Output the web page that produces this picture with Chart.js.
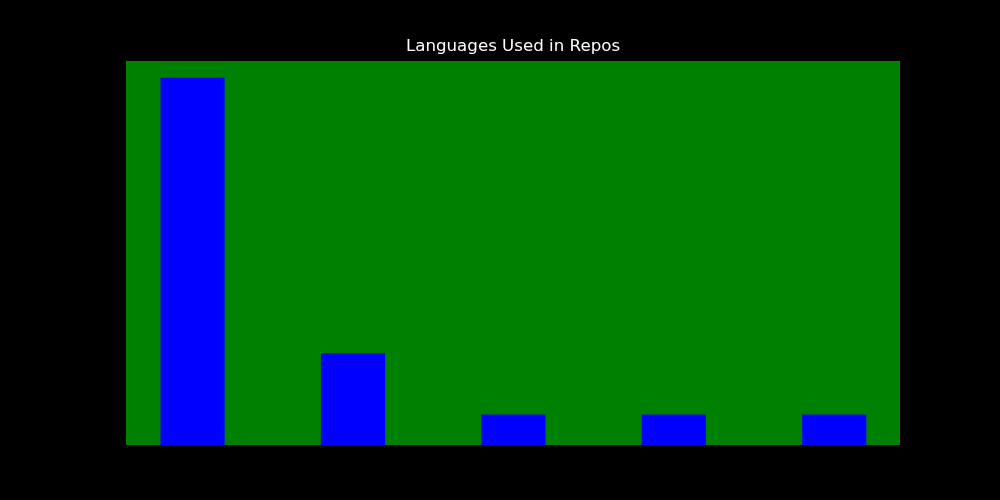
<!DOCTYPE html>
<html>
<head>
<meta charset="utf-8">
<script src="https://cdn.jsdelivr.net/npm/chart.js@4/dist/chart.umd.min.js"></script>
<style>
  html, body { margin: 0; padding: 0; background: #000; }
  #lang-chart { display: block; }
</style>
</head>
<body>
<canvas id="lang-chart" width="1000" height="500"></canvas>
<script>
// Languages and repo counts
const languages = ['Python', 'JavaScript', 'HTML', 'CSS', 'Shell'];
const repoCounts = [12, 3, 1, 1, 1];

// Fill the page black and the plot area green
const backgroundPlugin = {
    id: 'background',
    beforeDraw(chart) {
        const { ctx, chartArea } = chart;
        ctx.save();
        ctx.fillStyle = '#000000';
        ctx.fillRect(0, 0, chart.width, chart.height);
        ctx.fillStyle = '#008000';
        ctx.fillRect(chartArea.left, chartArea.top, chartArea.right - chartArea.left, chartArea.bottom - chartArea.top);
        ctx.restore();
    }
};

const langCtx = document.getElementById('lang-chart').getContext('2d');
new Chart(langCtx, {
    type: 'bar',
    data: {
        labels: languages,
        datasets: [{
            label: 'Repos',
            data: repoCounts.map((v, i) => ({ x: i, y: v })),
            backgroundColor: '#0000ff',
            borderWidth: 0,
            barPercentage: 0.4,
            categoryPercentage: 1.0
        }]
    },
    options: {
        responsive: false,
        animation: false,
        layout: {
            padding: { left: 126, right: 100, top: 36.6, bottom: 55 }
        },
        plugins: {
            legend: { display: false },
            tooltip: { enabled: false },
            title: {
                display: true,
                text: 'Languages Used in Repos',
                color: '#ffffff',
                font: { family: 'DejaVu Sans', size: 16.67, weight: 'normal' },
                padding: { top: 0, bottom: 4.4 }
            }
        },
        scales: {
            x: {
                type: 'linear',
                min: -0.415,
                max: 4.41,
                offset: false,
                ticks: { stepSize: 1, includeBounds: false },
                display: false
            },
            y: {
                min: 0,
                max: 12.55,
                display: false
            }
        }
    },
    plugins: [backgroundPlugin]
});
</script>
</body>
</html>
